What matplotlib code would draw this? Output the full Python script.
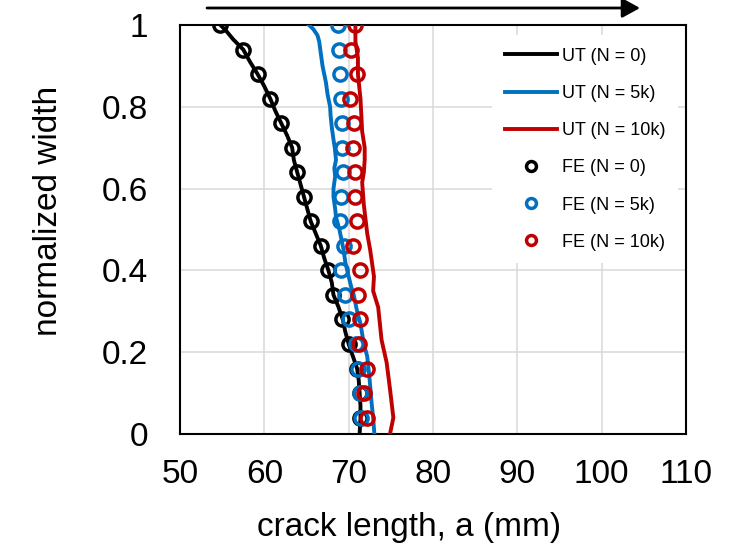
import matplotlib
matplotlib.use("Agg")
import matplotlib.pyplot as plt

plt.rcParams['font.family'] = ['Liberation Sans', 'DejaVu Sans']

# Ultrasonic (UT) crack-front measurements: crack length (mm) vs normalized width
ut0_a = [54.8, 55.5, 56.3, 57.5, 58.3, 59.2, 60.0, 60.7, 61.3, 62.0, 62.7, 63.3, 63.5,
         63.9, 64.3, 64.7, 65.1, 65.5, 66.1, 66.7, 67.1, 67.6, 68.0, 68.2, 68.8, 69.3,
         69.6, 70.0, 70.5, 71.0, 71.2, 71.3, 71.4, 71.4, 71.3]
ut0_w = [1.00, 0.985, 0.965, 0.94, 0.91, 0.88, 0.85, 0.82, 0.79, 0.76, 0.73, 0.70, 0.67,
         0.64, 0.61, 0.58, 0.55, 0.52, 0.49, 0.46, 0.43, 0.40, 0.37, 0.34, 0.31, 0.28,
         0.25, 0.22, 0.19, 0.16, 0.13, 0.10, 0.07, 0.04, 0.00]

ut5_a = [65.3, 65.8, 66.3, 66.5, 66.7, 66.9, 67.2, 67.3, 67.5, 67.8, 67.85, 68.0, 68.2,
         68.35, 68.5, 68.3, 68.4, 68.2, 68.2, 68.4, 68.5, 68.9, 69.0, 69.4, 69.6, 70.0,
         70.3, 70.6, 71.0, 71.4, 71.8, 72.2, 72.5, 72.7, 72.9, 73.05]
ut5_w = [1.00, 0.99, 0.975, 0.96, 0.93, 0.90, 0.87, 0.86, 0.83, 0.80, 0.78, 0.75, 0.72,
         0.70, 0.67, 0.65, 0.63, 0.60, 0.58, 0.55, 0.53, 0.50, 0.49, 0.45, 0.42, 0.385,
         0.36, 0.34, 0.30, 0.27, 0.22, 0.19, 0.13, 0.08, 0.04, 0.00]

ut10_a = [70.8, 70.8, 71.1, 71.1, 71.4, 71.6, 71.9, 71.9, 71.8, 71.6, 71.8, 72.2, 72.55,
          73.0, 72.9, 73.5, 73.9, 74.5, 74.9, 75.3, 74.9]
ut10_w = [1.00, 0.96, 0.92, 0.88, 0.82, 0.74, 0.70, 0.67, 0.64, 0.615, 0.56, 0.49, 0.45,
          0.385, 0.35, 0.31, 0.23, 0.175, 0.11, 0.04, 0.00]

# Finite element (FE) predictions at the mesh stations
fe_w = [1.00, 0.94, 0.88, 0.82, 0.76, 0.70, 0.64, 0.58, 0.52, 0.46, 0.40, 0.34, 0.28,
        0.22, 0.16, 0.10, 0.04]
fe0_a = [54.8, 57.5, 59.2, 60.7, 62.0, 63.3, 63.9, 64.7, 65.5, 66.7, 67.6, 68.2, 69.2,
         70.0, 71.0, 71.3, 71.4]
fe5_a = [68.75, 68.9, 69.0, 69.1, 69.25, 69.2, 69.3, 69.1, 69.0, 69.4, 69.1, 69.6, 70.0,
         70.9, 71.1, 71.3, 71.5]
fe10_a = [70.8, 70.3, 71.0, 70.2, 70.6, 70.5, 70.7, 70.8, 71.0, 70.5, 71.3, 71.1, 71.4,
          71.2, 72.2, 71.8, 72.2]

BLACK = '#000000'
BLUE = '#0070C0'
RED = '#C00000'

fig = plt.figure(figsize=(7.43, 5.55), dpi=100)
ax = fig.add_axes([180 / 743, 1 - 434 / 555, (686 - 180) / 743, (434 - 25) / 555])

lw = 2.8
ax.plot(ut0_a, ut0_w, color=BLACK, lw=lw, label='UT (N = 0)', zorder=3)
ax.plot(ut5_a, ut5_w, color=BLUE, lw=lw, label='UT (N = 5k)', zorder=3)
ax.plot(ut10_a, ut10_w, color=RED, lw=lw, label='UT (N = 10k)', zorder=3)

mk = dict(linestyle='none', marker='o', markersize=9.5, markeredgewidth=2.5,
          markerfacecolor='none', zorder=4)
ax.plot(fe0_a, fe_w, markeredgecolor=BLACK, label='FE (N = 0)', **mk)
ax.plot(fe5_a, fe_w, markeredgecolor=BLUE, label='FE (N = 5k)', **mk)
ax.plot(fe10_a, fe_w, markeredgecolor=RED, label='FE (N = 10k)', **mk)

ax.set_xlim(50, 110)
ax.set_ylim(0, 1)
ax.set_xticks([50, 60, 70, 80, 90, 100, 110])
ax.set_yticks([0, 0.2, 0.4, 0.6, 0.8, 1.0])
ax.set_yticklabels(['0', '0.2', '0.4', '0.6', '0.8', '1'])
ax.tick_params(axis='both', length=0, labelsize=24)
ax.tick_params(axis='x', pad=18)
ax.tick_params(axis='y', pad=23)

ax.grid(True, color='#D9D9D9', lw=1.1, zorder=0)
ax.set_axisbelow(True)
for s in ax.spines.values():
    s.set_linewidth(1.5)
    s.set_color('black')

ax.set_xlabel('crack length, a (mm)', fontsize=24)
ax.set_ylabel('normalized width', fontsize=24)
ax.xaxis.set_label_coords(0.4526, -0.19)
ax.yaxis.set_label_coords(-0.23, 0.545)

leg = ax.legend(loc='upper left', bbox_to_anchor=((492 - 180) / 506, (434 - 35) / 409),
                borderaxespad=0, fontsize=13, frameon=True, fancybox=False,
                edgecolor='none', facecolor='white', framealpha=1,
                handlelength=2.9, handletextpad=0.28, labelspacing=1.12,
                borderpad=0.7, markerscale=0.75)
leg.set_zorder(5)

# Direction arrow above the plot
y_arrow = 1 - 8 / 555
fig.add_artist(matplotlib.patches.FancyArrowPatch(
    (207 / 743, y_arrow), (640 / 743, y_arrow), transform=fig.transFigure,
    arrowstyle='-|>,head_length=0.4,head_width=0.22', mutation_scale=27,
    lw=2, color='black', shrinkA=0, shrinkB=0))

fig.savefig('out.png', dpi=100)
